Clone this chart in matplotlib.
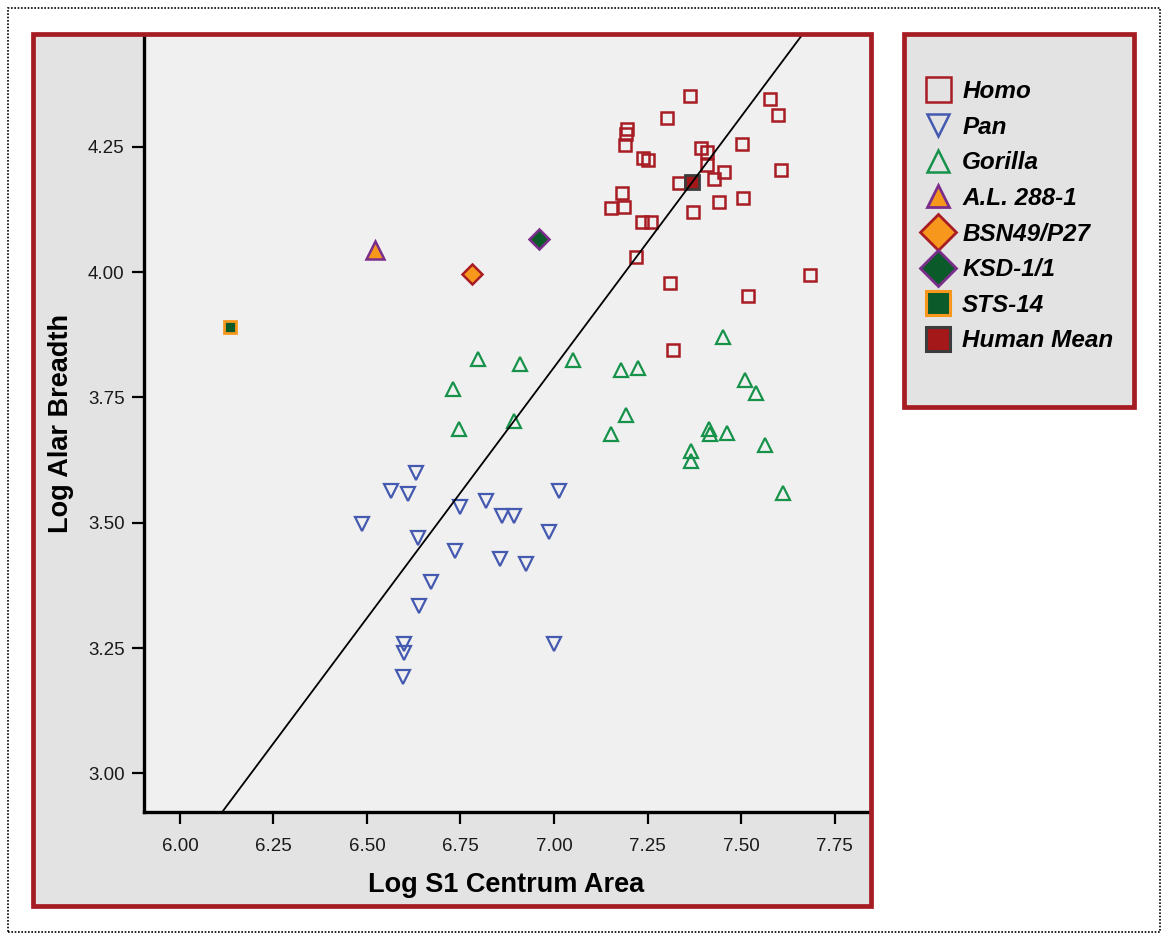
import matplotlib
matplotlib.use("Agg")
import matplotlib.pyplot as plt
from matplotlib.lines import Line2D
from matplotlib.patches import Rectangle
from matplotlib.ticker import FormatStrFormatter

plt.rcParams['font.family'] = ['Liberation Sans', 'DejaVu Sans']

# log S1 centrum area (x) against log alar breadth (y)
homo_x = [7.364, 7.303, 7.577, 7.598, 7.194, 7.192, 7.190, 7.237, 7.252, 7.394,
          7.408, 7.502, 7.408, 7.455, 7.429, 7.608, 7.333, 7.183, 7.153, 7.187,
          7.372, 7.442, 7.506, 7.234, 7.259, 7.219, 7.310, 7.684, 7.519, 7.318]
homo_y = [4.352, 4.307, 4.346, 4.313, 4.285, 4.275, 4.253, 4.227, 4.223, 4.247,
          4.240, 4.255, 4.213, 4.199, 4.185, 4.203, 4.178, 4.158, 4.127, 4.129,
          4.120, 4.140, 4.148, 4.099, 4.099, 4.031, 3.978, 3.994, 3.952, 3.845]

pan_x = [6.631, 6.563, 6.610, 7.014, 6.749, 6.817, 6.860, 6.893, 6.487, 6.987,
         6.636, 6.736, 6.856, 6.925, 6.671, 6.638, 6.600, 6.599, 7.001, 6.595]
pan_y = [3.599, 3.563, 3.557, 3.563, 3.532, 3.543, 3.514, 3.514, 3.497, 3.481,
         3.469, 3.443, 3.428, 3.417, 3.381, 3.334, 3.258, 3.241, 3.259, 3.192]

gorilla_x = [6.798, 6.909, 7.052, 6.729, 6.745, 6.893, 7.452, 7.178, 7.225, 7.510,
             7.539, 7.193, 7.152, 7.415, 7.418, 7.463, 7.565, 7.366, 7.367, 7.612]
gorilla_y = [3.826, 3.816, 3.825, 3.767, 3.688, 3.703, 3.870, 3.805, 3.809, 3.784,
             3.759, 3.715, 3.677, 3.688, 3.677, 3.679, 3.656, 3.644, 3.623, 3.559]

al288_x, al288_y = [6.521], [4.045]
bsn49_x, bsn49_y = [6.780], [3.997]
ksd_x, ksd_y = [6.961], [4.066]
sts14_x, sts14_y = [6.134], [3.890]
mean_x, mean_y = [7.368], [4.179]

# isometry line (slope 1) through the human mean
line_slope = 1.0
line_intercept = -3.19

x_ticks = [6.00, 6.25, 6.50, 6.75, 7.00, 7.25, 7.50, 7.75]
y_ticks = [3.00, 3.25, 3.50, 3.75, 4.00, 4.25]
x_limits = (5.904, 7.842)
y_limits = (2.923, 4.473)

RED = '#a81c24'
BLUE = '#4459b0'
GREEN = '#17924a'
ORANGE = '#f7981d'
PURPLE = '#7b2d8b'
DKGREEN = '#0b5a2a'
BORDER = '#a51c22'

W, H = 1161, 933


def px_rect(left, top, right, bottom):
    """figure-fraction rectangle from pixel edges"""
    return (left / W, 1 - bottom / H, (right - left) / W, (bottom - top) / H)


fig = plt.figure(figsize=(W / 100, H / 100), dpi=100)

# dotted outer frame
l, b, w, h = px_rect(7.5, 7.5, 1159.5, 931.5)
fig.add_artist(Rectangle((l, b), w, h, transform=fig.transFigure, fill=False,
                         edgecolor='black', lw=1.2, linestyle=(0, (1, 1)),
                         zorder=-3))

# grey panels with red borders (plot and legend)
for box in [(33, 34, 871, 906), (903.5, 34, 1133.5, 407)]:
    l, b, w, h = px_rect(*box)
    fig.add_artist(Rectangle((l, b), w, h, transform=fig.transFigure,
                             facecolor='#e3e3e3', edgecolor='none', zorder=-2))
    fig.add_artist(Rectangle((l, b), w, h, transform=fig.transFigure,
                             fill=False, edgecolor=BORDER, lw=3.4, zorder=3))

ax = fig.add_axes(px_rect(144, 35, 869, 812))
ax.set_facecolor('#f0f0f0')

ax.axline((0, line_intercept), slope=line_slope, color='black', lw=1.3,
          zorder=4)

ax.plot(homo_x, homo_y, ls='none', marker='s', ms=8.3, mfc='none',
        mec=RED, mew=1.8, zorder=3)
ax.plot(pan_x, pan_y, ls='none', marker='v', ms=10.5, mfc='none',
        mec=BLUE, mew=1.6, zorder=3)
ax.plot(gorilla_x, gorilla_y, ls='none', marker='^', ms=10.5, mfc='none',
        mec=GREEN, mew=1.6, zorder=3)
ax.plot(al288_x, al288_y, ls='none', marker='^', ms=13, mfc=ORANGE,
        mec=PURPLE, mew=1.8, zorder=3)
ax.plot(bsn49_x, bsn49_y, ls='none', marker='D', ms=10, mfc=ORANGE,
        mec=RED, mew=1.8, zorder=3)
ax.plot(ksd_x, ksd_y, ls='none', marker='D', ms=10, mfc=DKGREEN,
        mec=PURPLE, mew=1.8, zorder=3)
ax.plot(sts14_x, sts14_y, ls='none', marker='s', ms=8, mfc=DKGREEN,
        mec=ORANGE, mew=2.0, zorder=3)
ax.plot(mean_x, mean_y, ls='none', marker='s', ms=10.5, mfc='#a51819',
        mec='#3c3c3c', mew=2.0, zorder=3)

ax.set_xlim(*x_limits)
ax.set_ylim(*y_limits)
ax.set_xticks(x_ticks)
ax.set_yticks(y_ticks)
ax.xaxis.set_major_formatter(FormatStrFormatter('%.2f'))
ax.yaxis.set_major_formatter(FormatStrFormatter('%.2f'))
ax.tick_params(direction='out', length=8.5, width=1.6, labelsize=13.5,
               labelcolor='#1a1a1a')
ax.tick_params(axis='x', pad=10.5)
ax.tick_params(axis='y', pad=5.5)

for side in ['top', 'right']:
    ax.spines[side].set_visible(False)
for side in ['left', 'bottom']:
    ax.spines[side].set_linewidth(2.4)
    ax.spines[side].set_color('black')

ax.set_xlabel('Log S1 Centrum Area', fontsize=19.5, fontweight='bold',
              va='center')
ax.xaxis.set_label_coords(0.5, (812 - 885) / 777)
ax.set_ylabel('Log Alar Breadth', fontsize=19.5, fontweight='bold',
              va='center')
ax.yaxis.set_label_coords((61 - 144) / 725, 0.5)

handles = [
    Line2D([], [], ls='none', marker='s', ms=18, mfc='none', mec=RED, mew=1.8),
    Line2D([], [], ls='none', marker='v', ms=16, mfc='none', mec=BLUE, mew=1.8),
    Line2D([], [], ls='none', marker='^', ms=16, mfc='none', mec=GREEN, mew=1.8),
    Line2D([], [], ls='none', marker='^', ms=16, mfc=ORANGE, mec=PURPLE, mew=2),
    Line2D([], [], ls='none', marker='D', ms=18, mfc=ORANGE, mec=RED, mew=2),
    Line2D([], [], ls='none', marker='D', ms=18, mfc=DKGREEN, mec=PURPLE, mew=2),
    Line2D([], [], ls='none', marker='s', ms=17, mfc=DKGREEN, mec=ORANGE, mew=2.2),
    Line2D([], [], ls='none', marker='s', ms=17, mfc='#a51819', mec='#3c3c3c',
           mew=2.2),
]
labels = ['Homo', 'Pan', 'Gorilla', 'A.L. 288-1', 'BSN49/P27', 'KSD-1/1',
          'STS-14', 'Human Mean']
fig.legend(handles, labels, loc='upper left',
           bbox_to_anchor=(924 / W, 1 - 80 / H), frameon=False,
           prop={'size': 17.5, 'weight': 'bold', 'style': 'italic'},
           handlelength=1.15, handletextpad=0.42, borderpad=0,
           borderaxespad=0, labelspacing=0.52, numpoints=1)

fig.savefig('out.png', dpi=100)
